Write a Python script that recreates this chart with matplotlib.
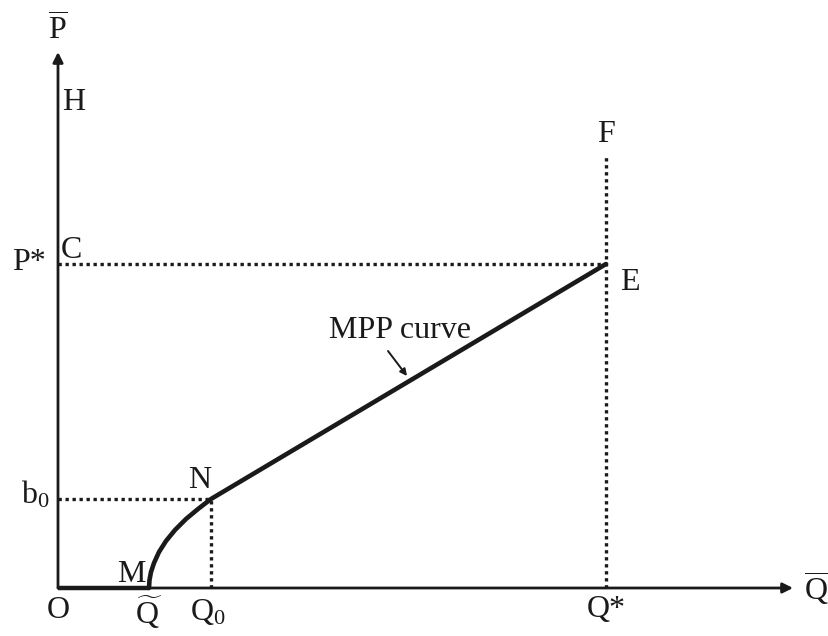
import matplotlib.pyplot as plt

plt.rcParams['font.family'] = ['Liberation Serif', 'DejaVu Serif']
plt.rcParams['mathtext.fontset'] = 'custom'
plt.rcParams['mathtext.rm'] = 'Liberation Serif'
plt.rcParams['mathtext.it'] = 'Liberation Serif:italic'

# key quantities of the diagram
q_tilde = 91
q_zero = 153
q_star = 548
b_zero = 89
p_star = 324
p_top = 433      # upper end of the F line
x_end = 735      # x-axis arrow tip
y_end = 536      # y-axis arrow tip

# MPP curve: concave rise from M to N, then straight to E
curve_q = [91, 91.5, 93, 96, 101, 108, 117, 128, 140, 153, 548]
curve_p = [0, 8, 16, 25, 36, 47, 58, 69, 79, 89, 324]

fig = plt.figure(figsize=(8.29, 6.36), dpi=100)
ax = fig.add_axes([0, 0, 1, 1])
ax.set_xlim(-58, 771)
ax.set_ylim(-48, 588)
ax.axis('off')

ink = '#1a1a1a'
arrow = dict(arrowstyle='-|>', color=ink, lw=2.0, mutation_scale=15,
             shrinkA=0, shrinkB=0)
ax.annotate('', xy=(0, y_end), xytext=(0, 0), arrowprops=arrow)
ax.annotate('', xy=(x_end, 0), xytext=(0, 0), arrowprops=arrow)
ax.plot([0, q_tilde], [0, 0], color=ink, lw=3.2, solid_capstyle='butt')

dot = dict(color=ink, lw=2.4, linestyle=(0, (1, 1.1)), dash_capstyle='butt')
ax.plot([0, q_star], [p_star, p_star], **dot)
ax.plot([q_star, q_star], [0, p_top], **dot)
ax.plot([0, q_zero], [b_zero, b_zero], **dot)
ax.plot([q_zero, q_zero], [0, b_zero], **dot)

ax.plot(curve_q, curve_p, color=ink, lw=3.3, solid_capstyle='round',
        solid_joinstyle='round')

ax.annotate('', xy=(349, 212), xytext=(330, 237),
            arrowprops=dict(arrowstyle='-|>', color=ink, lw=1.4,
                            mutation_scale=10, shrinkA=0, shrinkB=0))

fs = 23
txt = dict(fontsize=fs, color=ink)
ax.text(0, 558, r'$\overline{\mathrm{P}}$', ha='center', va='center', **txt)
ax.text(759, -1, r'$\overline{\mathrm{Q}}$', ha='center', va='center', **txt)
ax.text(4, 485, 'H', ha='left', va='center', **txt)
ax.text(3, 338, 'C', ha='left', va='center', **txt)
ax.text(-12, 325, 'P*', ha='right', va='center', **txt)
ax.text(562, 306, 'E', ha='left', va='center', **txt)
ax.text(q_star, 453, 'F', ha='center', va='center', **txt)
ax.text(142, 107, 'N', ha='center', va='center', **txt)
ax.text(-8, 93, r'$\mathrm{b}_0$', ha='right', va='center', **txt)
ax.text(73, 14, 'M', ha='center', va='center', **txt)
ax.text(342, 258, 'MPP curve', ha='center', va='center', **txt)
ax.text(0, -22, 'O', ha='center', va='center', **txt)
ax.text(q_tilde, -24, r'$\widetilde{\mathrm{Q}}$', ha='center', va='center', **txt)
ax.text(q_zero - 3, -24, r'$\mathrm{Q}_0$', ha='center', va='center', **txt)
ax.text(q_star, -22, 'Q*', ha='center', va='center', **txt)

fig.savefig('out.png', dpi=100, facecolor='white')
